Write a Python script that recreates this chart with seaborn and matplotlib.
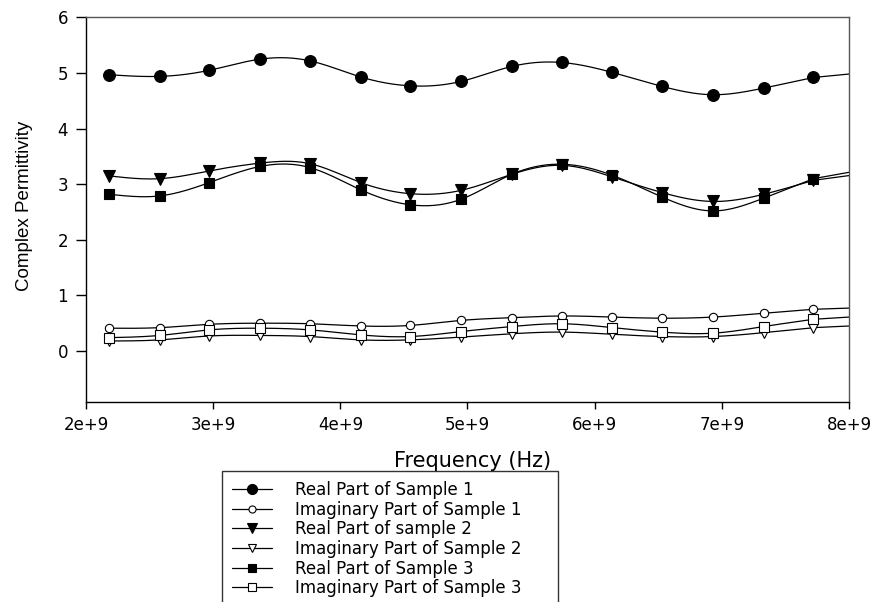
import numpy as np
import pandas as pd
import matplotlib
matplotlib.use("Agg")
import matplotlib.pyplot as plt
import seaborn as sns
from matplotlib.ticker import FuncFormatter
from matplotlib.lines import Line2D

# frequencies in GHz (converted to Hz below)
freq_ghz = [2.18, 2.58, 2.97, 3.37, 3.76, 4.16, 4.55, 4.95, 5.35, 5.74, 6.14, 6.53, 6.93, 7.33, 7.72]

real1 = [4.97, 4.94, 5.05, 5.25, 5.22, 4.93, 4.77, 4.85, 5.12, 5.19, 5.01, 4.76, 4.61, 4.73, 4.92]
imag1 = [0.41, 0.42, 0.48, 0.50, 0.49, 0.45, 0.46, 0.55, 0.60, 0.63, 0.61, 0.59, 0.61, 0.68, 0.75]
real2 = [3.15, 3.10, 3.24, 3.38, 3.37, 3.03, 2.83, 2.89, 3.18, 3.34, 3.13, 2.85, 2.69, 2.82, 3.07]
imag2 = [0.18, 0.20, 0.27, 0.28, 0.26, 0.20, 0.20, 0.25, 0.31, 0.34, 0.30, 0.26, 0.26, 0.33, 0.42]
real3 = [2.82, 2.79, 3.03, 3.32, 3.30, 2.90, 2.63, 2.73, 3.18, 3.36, 3.16, 2.77, 2.52, 2.75, 3.10]
imag3 = [0.24, 0.28, 0.38, 0.41, 0.38, 0.29, 0.26, 0.35, 0.44, 0.49, 0.42, 0.34, 0.32, 0.44, 0.57]

labels = ["Real Part of Sample 1", "Imaginary Part of Sample 1", "Real Part of sample 2",
          "Imaginary Part of Sample 2", "Real Part of Sample 3", "Imaginary Part of Sample 3"]
series = [real1, imag1, real2, imag2, real3, imag3]

# marker style per series: (marker, filled, size)
styles = [("o", True, 8.5), ("o", False, 6.0), ("v", True, 8.5),
          ("v", False, 7.0), ("s", True, 7.5), ("s", False, 6.5)]


def smooth_curve(x, y, xs):
    # natural cubic spline through the points, flatter tail past the last point
    x = np.asarray(x, float)
    y = np.asarray(y, float)
    n = len(x)
    h = np.diff(x)
    A = np.zeros((n, n))
    b = np.zeros(n)
    A[0, 0] = A[-1, -1] = 1
    for i in range(1, n - 1):
        A[i, i - 1] = h[i - 1]
        A[i, i] = 2 * (h[i - 1] + h[i])
        A[i, i + 1] = h[i]
        b[i] = 6 * ((y[i + 1] - y[i]) / h[i] - (y[i] - y[i - 1]) / h[i - 1])
    M = np.linalg.solve(A, b)
    idx = np.clip(np.searchsorted(x, xs) - 1, 0, n - 2)
    x0, x1 = x[idx], x[idx + 1]
    hh = x1 - x0
    t0, t1 = x1 - xs, xs - x0
    out = (M[idx] * t0 ** 3 / (6 * hh) + M[idx + 1] * t1 ** 3 / (6 * hh)
           + (y[idx] / hh - M[idx] * hh / 6) * t0
           + (y[idx + 1] / hh - M[idx + 1] * hh / 6) * t1)
    end_slope = (y[-1] - y[-2]) / h[-1] + h[-1] * (2 * M[-1] + M[-2]) / 6
    tail = xs > x[-1]
    out[tail] = y[-1] + 0.45 * end_slope * (xs[tail] - x[-1])
    return out


sns.set_style("ticks")
plt.rcParams["font.family"] = ["DejaVu Sans"]
plt.rcParams["text.color"] = "black"
plt.rcParams["axes.labelcolor"] = "black"

fig = plt.figure(figsize=(8.73, 6.02), dpi=100)
ax = fig.add_axes([0.0985, 0.332, 0.874, 0.639])

xs = np.linspace(freq_ghz[0], 8.0, 400)
handles = []
for lab, vals, (mk, filled, ms) in zip(labels, series, styles):
    curve = pd.DataFrame({"f": xs * 1e9, "v": smooth_curve(freq_ghz, vals, xs)})
    sns.lineplot(data=curve, x="f", y="v", ax=ax, color="black", linewidth=0.9)
    pts = pd.DataFrame({"f": np.array(freq_ghz) * 1e9, "v": vals})
    face = "black" if filled else "white"
    ax.plot(pts["f"], pts["v"], linestyle="none", marker=mk, markersize=ms,
            markerfacecolor=face, markeredgecolor="black", markeredgewidth=0.8, zorder=3)
    handles.append(Line2D([0], [0], color="black", linewidth=0.9, marker=mk,
                          markersize=ms * 0.85, markerfacecolor=face,
                          markeredgecolor="black", markeredgewidth=0.8))

ax.set_xlim(2e9, 8e9)
ax.set_ylim(-0.92, 6)
ax.set_yticks(range(0, 7))
ax.xaxis.set_major_formatter(FuncFormatter(lambda v, p: f"{v / 1e9:.0f}e+9"))
ax.tick_params(axis="both", labelsize=12, colors="black", direction="out")
ax.tick_params(axis="y", length=7, width=1, pad=6)
ax.tick_params(axis="x", length=5, width=1, pad=5)

for side in ["left", "bottom"]:
    ax.spines[side].set_color("black")
    ax.spines[side].set_linewidth(1.0)
for side in ["top", "right"]:
    ax.spines[side].set_visible(True)
    ax.spines[side].set_color("#555555")
    ax.spines[side].set_linewidth(1.0)

ax.set_xlabel("Frequency (Hz)", fontsize=15, color="black")
ax.xaxis.set_label_coords(0.507, -0.128)
ax.set_ylabel("Complex Permittivity", fontsize=13.5, color="black",
              family=["Liberation Sans", "DejaVu Sans"])
ax.yaxis.set_label_coords(-0.069, 0.51)

leg = fig.legend(handles, labels, loc="upper left",
                 bbox_to_anchor=(222 / 873, 0.0, 336 / 873, 1 - 471 / 602),
                 bbox_transform=fig.transFigure, mode="expand", fontsize=12,
                 frameon=True, fancybox=False, handlelength=2.4, handletextpad=1.4,
                 labelspacing=0.1, borderpad=0.6, borderaxespad=0, labelcolor="black")
leg.get_frame().set_edgecolor("black")
leg.get_frame().set_linewidth(1.0)

fig.savefig("out.png", dpi=100)
